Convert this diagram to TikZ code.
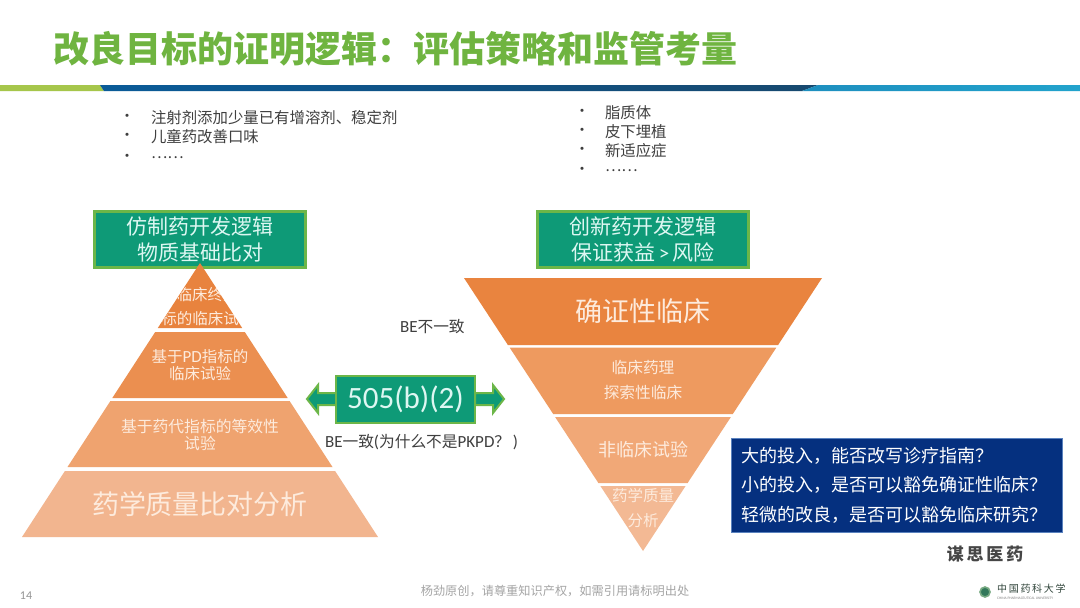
\documentclass[tikz,border=0pt]{standalone}
\usepackage{fontspec}
\setmainfont{Noto Sans CJK SC}
\newfontfamily\lat{Carlito}
\definecolor{titlegreen}{HTML}{6FB440}
\definecolor{boxfill}{HTML}{0E9A77}
\definecolor{boxedge}{HTML}{6CB648}
\definecolor{boxtext}{HTML}{DDF7F2}
\definecolor{tiertext}{HTML}{FDEBDD}
\definecolor{darktext}{HTML}{3F3F3F}
\definecolor{navy}{HTML}{05307F}
\definecolor{barlime}{HTML}{A6C64B}
\definecolor{bardarkA}{HTML}{0A5B98}
\definecolor{bardarkB}{HTML}{17496F}
\definecolor{barcyanA}{HTML}{1E8FBF}
\definecolor{barcyanB}{HTML}{22A3CC}
\newcommand{\fs}[2]{\fontsize{#1}{#2}\selectfont}
\newcommand{\zcolon}{\char"FF1A\relax}
\newcommand{\zcomma}{\char"FF0C\relax}
\newcommand{\zq}{\char"FF1F\relax}
\tikzset{
  txt/.style={inner sep=0pt,outer sep=0pt,text=darktext},
  headbox/.style={draw=boxedge,line width=2.4pt,fill=boxfill,text=boxtext,align=center,inner sep=0pt,
     minimum width=211pt,minimum height=56pt,font=\fs{21}{25.5}},
  tierlabel/.style={inner sep=0pt,text=tiertext,align=center},
  bulletlabel/.style={txt,anchor=west,font=\fs{15.4}{16}},
  bulletdot/.style={txt,font=\fs{15}{16}},
}
\begin{document}
\begin{tikzpicture}[x=1pt,y=-1pt]
\useasboundingbox (0,0) rectangle (1080,608);
\fill[white] (0,0) rectangle (1080,608);
% title
\node[inner sep=0pt,anchor=west,text=titlegreen,font=\fs{36}{40}\bfseries] (title) at (53,49) {改良目标的证明逻辑\zcolon 评估策略和监管考量};
% rule
\fill[barlime] (0,85) -- (100,85) -- (104,91) -- (0,91) -- cycle;
\shade[left color=bardarkA,right color=bardarkB] (100,85) -- (818,85) -- (802,91) -- (104,91) -- cycle;
\shade[left color=barcyanA,right color=barcyanB] (818,85) -- (1080,85) -- (1080,91) -- (802,91) -- cycle;
% bullets left
\foreach \n/\y/\t in {a/118/注射剂添加少量已有增溶剂、稳定剂,b/137/儿童药改善口味,c/158/……}{
  \node[bulletdot] (dl\n) at (127,\y) {•};
  \node[bulletlabel] (tl\n) at (151,\y) {\t};
}
% bullets right
\foreach \n/\y/\t in {a/113/脂质体,b/132/皮下埋植,c/151/新适应症,d/171/……}{
  \node[bulletdot] (dr\n) at (582,\y) {•};
  \node[bulletlabel] (tr\n) at (605,\y) {\t};
}
% head boxes
\node[headbox] (hl) at (200,239.5) {仿制药开发逻辑\\物质基础比对};
\node[headbox] (hr) at (643,239.5) {创新药开发逻辑\\保证获益{\lat\,>\,}风险};
% left pyramid
\fill[color={rgb,255:red,232;green,131;blue,62}] (200,263) -- (242.2,328) -- (157.8,328) -- cycle;
\fill[color={rgb,255:red,235;green,143;blue,80}] (155.2,332) -- (244.8,332) -- (287.7,398) -- (112.3,398) -- cycle;
\fill[color={rgb,255:red,239;green,163;blue,111}] (110.4,401) -- (289.6,401) -- (332.5,467) -- (67.5,467) -- cycle;
\fill[color={rgb,255:red,242;green,181;blue,143}] (64.9,471) -- (335.1,471) -- (378,537) -- (22,537) -- cycle;
\begin{scope}
\clip (200,263) -- (242.2,328) -- (157.8,328) -- cycle;
\node[tierlabel,font=\fs{15.5}{16}] (l1a) at (192,295) {基于临床终点};
\node[tierlabel,font=\fs{15.5}{16}] (l1b) at (200,319) {指标的临床试验};
\end{scope}
\node[tierlabel,font=\fs{15.5}{17.5}] (l2) at (200,365) {基于{\lat\fontsize{17}{17.5}\selectfont PD}指标的\\临床试验};
\node[tierlabel,font=\fs{15.8}{17}] (l3) at (200,434.5) {基于药代指标的等效性\\试验};
\node[tierlabel,font=\fs{27}{30}] (l4) at (200,504) {药学质量比对分析};
% right pyramid
\fill[color={rgb,255:red,233;green,132;blue,63}] (464,278) -- (822,278) -- (778.1,345) -- (507.9,345) -- cycle;
\fill[color={rgb,255:red,238;green,154;blue,95}] (509.6,347.5) -- (776.4,347.5) -- (732.8,414) -- (553.2,414) -- cycle;
\fill[color={rgb,255:red,241;green,168;blue,119}] (555.1,417) -- (730.9,417) -- (687.6,483) -- (598.4,483) -- cycle;
\fill[color={rgb,255:red,243;green,185;blue,148}] (600.4,486) -- (685.6,486) -- (643,551) -- cycle;
\node[tierlabel,font=\fs{27}{30}] (r1) at (643,311) {确证性临床};
\node[tierlabel,font=\fs{15.7}{25}] (r2) at (643,380) {临床药理\\探索性临床};
\node[tierlabel,font=\fs{18}{20}] (r3) at (643,450) {非临床试验};
\node[tierlabel,font=\fs{15.5}{25}] (r4) at (643,508) {药学质量\\分析};
% double arrow
\path[fill=boxfill,draw=boxedge,line width=2pt]
  (307,399) -- (318,385) -- (318,393) -- (336,393) -- (336,405) -- (318,405) -- (318,413) -- cycle;
\path[fill=boxfill,draw=boxedge,line width=2pt]
  (504,399) -- (493,385) -- (493,393) -- (475,393) -- (475,405) -- (493,405) -- (493,413) -- cycle;
\node[draw=boxedge,line width=2pt,fill=boxfill,text=boxtext,inner sep=0pt,minimum width=139pt,minimum height=47pt,font=\lat\fs{31}{34}] (fda) at (405.5,399) {505(b)(2)};
% side notes
\node[txt,font=\fs{15.7}{16},anchor=west] (ben) at (400,327) {{\lat\fontsize{17}{16}\selectfont BE}不一致};
\node[txt,font=\fs{15.7}{16},anchor=west] (bey) at (325,442) {{\lat\fontsize{17}{16}\selectfont BE}一致{\lat\fontsize{17}{16}\selectfont(}为什么不是{\lat\fontsize{17}{16}\selectfont PKPD}\zq{\lat\fontsize{17}{16}\selectfont\,)}};
% question box
\node[fill=navy,draw={rgb,255:red,90;green,130;blue,190},line width=.5pt,text=white,inner xsep=10.5pt,inner ysep=0pt,align=left,anchor=north west,text width=310pt,minimum height=94pt,font=\fs{18}{29.5}] (q) at (731,438)
 {大的投入\zcomma 能否改写诊疗指南\zq\\小的投入\zcomma 是否可以豁免确证性临床\zq\\轻微的改良\zcomma 是否可以豁免临床研究\zq};
% signature
\node[inner sep=0pt,text={rgb,255:red,70;green,70;blue,70},font=\fs{17}{18}\bfseries] (sig) at (985,554) {谋\,思\,医\,药};
% footer
\node[inner sep=0pt,text={rgb,255:red,150;green,150;blue,150},font=\lat\fs{12}{13}] (page) at (26,596) {14};
\node[inner sep=0pt,text={rgb,255:red,165;green,165;blue,165},font=\fs{12.2}{13}] (foot) at (555,591) {杨劲原创\zcomma 请尊重知识产权\zcomma 如需引用请标明出处};
% logo
\node[circle,draw={rgb,255:red,120;green,170;blue,130},line width=1.6pt,fill={rgb,255:red,50;green,120;blue,90},minimum size=10pt,inner sep=0pt] (seal) at (985,592) {};
\node[inner sep=0pt,anchor=west,text={rgb,255:red,50;green,70;blue,60},font=\fs{10}{11}] (uni) at (997,589) {中\,国\,药\,科\,大\,学};
\node[inner sep=0pt,anchor=west,text={rgb,255:red,130;green,130;blue,130},font=\lat\fs{3.6}{4}] (unien) at (997,598) {CHINA PHARMACEUTICAL UNIVERSITY};
\end{tikzpicture}
\end{document}
